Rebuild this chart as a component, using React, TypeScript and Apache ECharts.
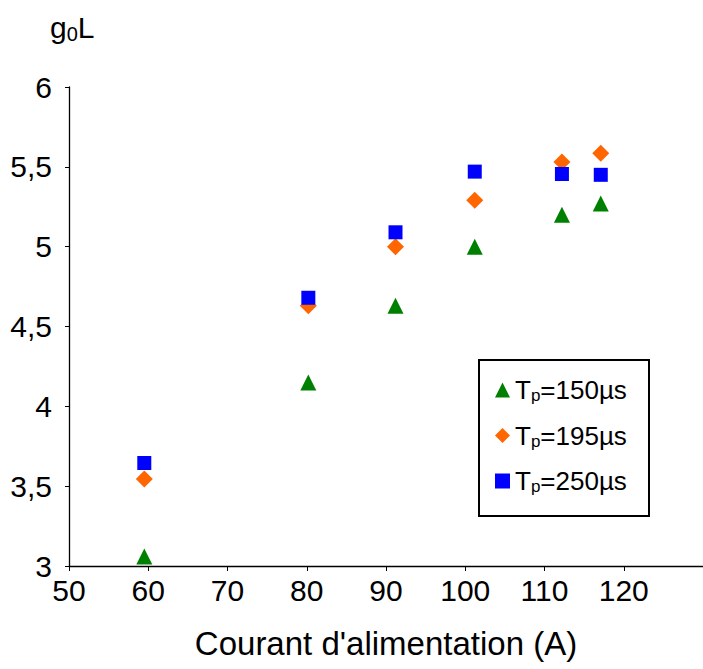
import React, { useEffect, useRef } from "react";
import * as echarts from "echarts";

const currents = [59.5, 80.2, 91.2, 101.2, 112.2, 117.1];
const tpValues = [150, 195, 250];
const g150 = [3.06, 4.15, 4.63, 5.0, 5.2, 5.27];
const g195 = [3.545, 4.63, 5.0, 5.29, 5.53, 5.585];
const g250 = [3.645, 4.68, 5.09, 5.47, 5.455, 5.45];
const seriesValues = [g150, g195, g250];
const symbols = ["triangle", "diamond", "rect"];
const symbolSizes = [16, 17, 14];
const colors = ["#008000", "#FF6600", "#0000FF"];
const xTitle = "Courant d'alimentation (A)";

const FONT = "Liberation Sans, Arial, sans-serif";

export default function App() {
  const ref = useRef<HTMLDivElement>(null);
  useEffect(() => {
    document.body.style.margin = "0";
    const chart = echarts.init(ref.current!, null, { renderer: "svg" });
    chart.setOption({
      animation: false,
      backgroundColor: "#ffffff",
      textStyle: { fontFamily: FONT },
      grid: { left: 69, top: 87, right: 0, bottom: 103, containLabel: false },
      xAxis: {
        type: "value",
        min: 50,
        max: 130,
        interval: 10,
        name: xTitle,
        nameLocation: "middle",
        nameGap: 61,
        nameTextStyle: { fontSize: 33, color: "#000", fontFamily: FONT },
        axisLine: { show: true, onZero: false, lineStyle: { color: "#000", width: 1.3 } },
        axisTick: { show: true, length: 5, lineStyle: { color: "#000" } },
        axisLabel: { fontSize: 30, color: "#000", margin: 9, showMaxLabel: false, fontFamily: FONT },
        splitLine: { show: false },
      },
      yAxis: {
        type: "value",
        min: 3,
        max: 6,
        interval: 0.5,
        axisLine: { show: true, onZero: false, lineStyle: { color: "#000", width: 1.3 } },
        axisTick: { show: true, length: 4, lineStyle: { color: "#000" } },
        axisLabel: {
          fontSize: 30,
          color: "#000",
          margin: 17,
          fontFamily: FONT,
          formatter: (v: number) => String(v).replace(".", ","),
        },
        splitLine: { show: false },
      },
      legend: {
        orient: "vertical",
        left: 495,
        top: 377,
        itemWidth: 15,
        itemHeight: 15,
        itemGap: 18.5,
        padding: 0,
        data: tpValues.map((t) => `Tp=${t}µs`),
        formatter: (name: string) => `{a|T}{b|p}{a|${name.slice(2)}}`,
        textStyle: {
          fontFamily: FONT,
          color: "#000",
          rich: {
            a: { fontSize: 26, lineHeight: 28, color: "#000", fontFamily: FONT },
            b: { fontSize: 17, lineHeight: 2, verticalAlign: "bottom", color: "#000", fontFamily: FONT },
          },
        },
      },
      graphic: [
        {
          type: "rect",
          shape: { x: 479, y: 360, width: 170, height: 156 },
          style: { fill: "none", stroke: "#000", lineWidth: 2 },
          z: 0,
        },
        {
          type: "text",
          left: 50,
          top: 12,
          style: {
            text: "{g|g}{s|0}{g|L}",
            rich: {
              g: { fontSize: 30, lineHeight: 34, fill: "#000", fontFamily: FONT },
              s: { fontSize: 20, lineHeight: 12, verticalAlign: "bottom", fill: "#000", fontFamily: FONT },
            },
          },
        },
      ],
      series: tpValues.map((t, i) => ({
        type: "scatter",
        name: `Tp=${t}µs`,
        symbol: symbols[i],
        symbolSize: symbolSizes[i],
        itemStyle: { color: colors[i], opacity: 1 },
        data: currents.map((c, j) => [c, seriesValues[i][j]]),
      })),
    });
    return () => chart.dispose();
  }, []);
  return <div ref={ref} style={{ width: 703, height: 669 }} />;
}
